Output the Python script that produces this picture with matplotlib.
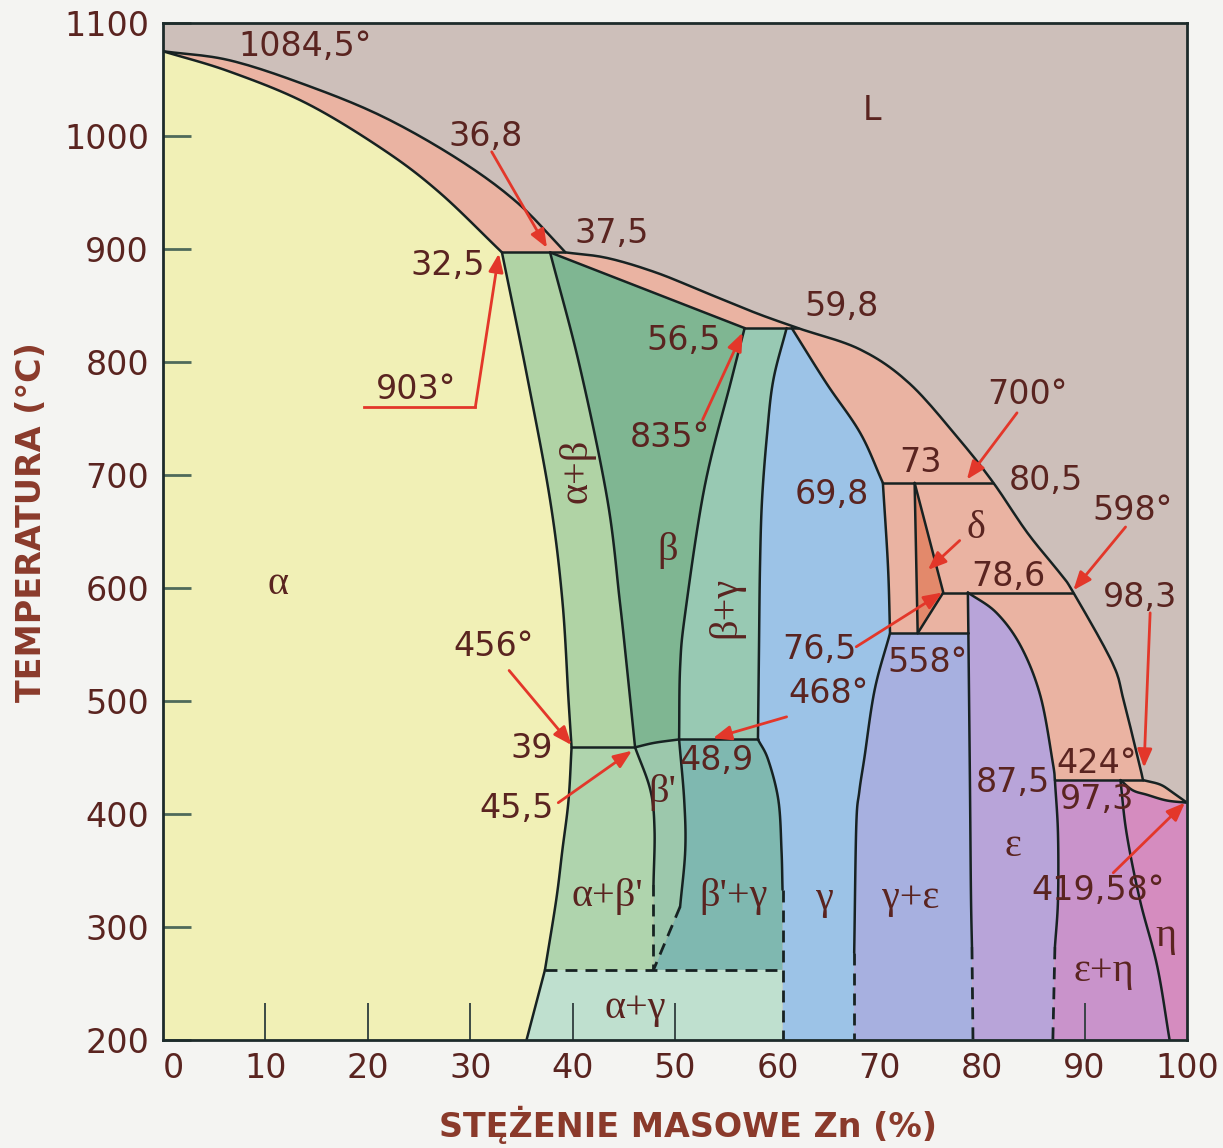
import numpy as np
import matplotlib.pyplot as plt

# Cu-Zn phase diagram, boundaries (Zn wt%, temperature in C)
liq_x = [0.0, 6.5, 14.0, 21.5, 28.9, 34.6, 39.3, 43.4, 48.2, 53.1, 58.0, 62.0, 68.1, 72.9,
         77.8, 81.1, 84.4, 87.6, 88.9, 92.7, 93.8, 95.4, 95.7, 97.4, 98.6, 100.0]
liq_t = [1075, 1067, 1045, 1017, 979, 941, 897, 892, 879, 861, 843, 830, 811, 781,
         731, 693, 649, 613, 596, 534, 501, 442, 430, 426, 419, 410]

sol_a_x = [0.0, 6.5, 14.0, 21.5, 27.0, 33.1]
sol_a_t = [1075, 1057, 1029, 988, 950, 897]

solv_a_x = [33.1, 35.5, 37.8, 39.0, 39.6, 39.9, 39.6, 39.0, 38.4, 37.3, 35.5]
solv_a_t = [897, 790, 678, 589, 501, 459, 412, 368, 324, 262, 200]

beta_l_x = [37.8, 40.7, 43.4, 44.6, 45.3, 46.1]
beta_l_t = [897, 796, 678, 589, 530, 459]

beta_r_x = [56.8, 55.5, 52.9, 51.0, 50.5, 50.4]
beta_r_t = [830, 784, 690, 578, 530, 466]

bp_top_x = [46.1, 48.0, 50.4]
bp_top_t = [459, 463, 466]

gam_l_x = [60.9, 59.6, 59.0, 58.5, 58.3, 58.2, 58.1, 59.1, 60.1, 60.4, 60.5]
gam_l_t = [830, 784, 737, 678, 619, 545, 466, 448, 412, 368, 333]

gam_r_x = [61.4, 64.8, 68.1, 70.3, 70.8, 71.0, 69.5, 68.5, 68.0, 67.7, 67.5]
gam_r_t = [830, 781, 737, 693, 619, 560, 510, 450, 420, 389, 277]

abp_x = [46.1, 47.6, 48.0, 47.9]   # alpha+beta' / beta'
abp_t = [459, 421, 386, 338]
bpg_x = [50.4, 50.9, 51.0, 50.5]   # beta' / beta'+gamma
bpg_t = [466, 412, 368, 318]

delta_x = [73.4, 76.2, 73.7]
delta_t = [693, 596, 560]

eps_l_x = [78.6, 78.65, 78.8, 78.9, 79.0]
eps_l_t = [596, 560, 430, 330, 282]
eps_r_x = [78.6, 81.4, 83.8, 85.7, 86.9, 87.1, 87.4, 87.4, 87.1]
eps_r_t = [596, 578, 548, 504, 445, 430, 383, 324, 282]

eta_sol_x = [93.5, 94.7, 96.1, 98.0, 100.0]
eta_sol_t = [430, 421, 417, 412, 410]
eta_solv_x = [93.5, 94.1, 95.4, 97.1, 98.3]
eta_solv_t = [430, 383, 324, 265, 200]

# isotherms: (x from, x to, temperature)
isotherms = [(33.1, 39.3, 897), (56.8, 62.0, 830), (70.3, 81.1, 693), (76.2, 88.9, 596),
             (71.0, 78.6, 560), (39.9, 46.1, 459), (50.4, 58.1, 466), (87.1, 95.7, 430)]
t_low = 262

INK = "#172222"
RED = "#e3372a"
TXT = "#5a2420"
AXL = "#8a3a2b"

col = {
    "L": "#cdbfba", "pink": "#eab3a2", "a": "#f1f0b6", "ab": "#b0d3a5", "b": "#7fb692",
    "bg": "#98c9b3", "g": "#9cc3e7", "abp": "#afd4ad", "bp": "#9cc8ac", "bpg": "#7fb8b0",
    "ag": "#bfe0cf", "ge": "#a7b0e0", "e": "#b8a4d9", "eh": "#c993cb", "h": "#d58cbf",
    "d": "#e3896b",
}

SCALE = np.array([10.24, 1.13])  # px per unit, so the curves are smoothed in screen space


def S(p, n=12):
    """Catmull-Rom curve through the read points (drawing only)."""
    p = np.asarray(p, float)
    if len(p) < 3:
        return p
    q = p * SCALE
    ext = np.vstack([2 * q[0] - q[1], q, 2 * q[-1] - q[-2]])
    s = np.linspace(0, 1, n, endpoint=False)[:, None]
    out = []
    for i in range(1, len(ext) - 2):
        p0, p1, p2, p3 = ext[i - 1:i + 3]
        out.append(0.5 * (2 * p1 + (p2 - p0) * s + (2 * p0 - 5 * p1 + 4 * p2 - p3) * s ** 2
                          + (3 * p1 - p0 - 3 * p2 + p3) * s ** 3))
    out.append(q[-1:])
    return np.vstack(out) / SCALE


def P(x, t):
    return np.column_stack([x, t]).astype(float)


liq = P(liq_x, liq_t)
liq_s = np.vstack([S(liq[:7]), S(liq[6:12])[1:], S(liq[11:23])[1:], S(liq[22:])[1:]])
sol_a = S(P(sol_a_x, sol_a_t))
solv = P(solv_a_x, solv_a_t)
solv_up, solv_lo, solv_bot = S(solv[:6]), S(solv[5:10]), solv[9:]
beta_l = S(P(beta_l_x, beta_l_t))
beta_r = S(P(beta_r_x, beta_r_t))
bp_top = S(P(bp_top_x, bp_top_t))
gl = P(gam_l_x, gam_l_t)
gl_up, gl_lo = S(gl[:7]), S(gl[6:])
gr = P(gam_r_x, gam_r_t)
gr1, gr2, gr3 = S(gr[:4]), S(gr[3:6]), S(gr[5:])
abp = S(P(abp_x, abp_t))
bpg = S(P(bpg_x, bpg_t))
el = P(eps_l_x, eps_l_t)
el1, el2 = el[:2], S(el[1:])
er = P(eps_r_x, eps_r_t)
er1, er2 = S(er[:6]), S(er[5:])
eta_sol = S(P(eta_sol_x, eta_sol_t))
eta_solv = S(P(eta_solv_x, eta_solv_t))

fig = plt.figure(figsize=(12.23, 11.48), dpi=100, facecolor="#f4f4f2")
ax = fig.add_axes([163 / 1223, 1 - 1040 / 1148, 1024 / 1223, 1017 / 1148])
ax.set_xlim(0, 100)
ax.set_ylim(200, 1100)
ax.set_facecolor(col["L"])


def fill(c, *parts):
    p = np.vstack(parts)
    ax.fill(p[:, 0], p[:, 1], color=col[c], lw=0, zorder=1)


x_g = gl[-1, 0]
x_gr = gr[-1, 0]
fill("pink", liq_s, [[100, 200], [0, 200]])
fill("a", sol_a, solv_up, solv_lo, solv_bot, [[0, 200]])
fill("ab", solv_up, beta_l[::-1])
fill("b", beta_l, bp_top, beta_r[::-1])
fill("bg", beta_r, gl_up[::-1])
fill("g", gl_up, gl_lo, [[x_g, 200], [x_gr, 200]], gr3[::-1], gr2[::-1], gr1[::-1])
fill("abp", solv_lo, [[47.9, t_low]], abp[::-1])
fill("bp", abp, [[47.9, t_low]], bpg[::-1], bp_top[::-1])
fill("bpg", bpg, [[47.9, t_low], [x_g, t_low]], gl_lo[::-1])
fill("ag", solv_bot, [[x_g, 200], [x_g, t_low]])
fill("ge", gr3, [[x_gr, 200], [79.1, 200]], el2[::-1])
fill("e", el1, el2, [[79.1, 200], [86.9, 200]], er2[::-1], er1[::-1])
fill("eh", er2, [[86.9, 200], [eta_solv[-1, 0], 200]], eta_solv[::-1])
fill("h", eta_solv, [[100, 200], [100, 410]], eta_sol[::-1])
fill("d", P(delta_x, delta_t))

solid = dict(color=INK, lw=1.8, zorder=3, solid_joinstyle="round", solid_capstyle="round")
dashed = dict(color=INK, lw=2.0, zorder=3, linestyle=(0, (4.3, 2.9)))
for c in [liq_s, sol_a, solv_up, solv_lo, solv_bot, beta_l, beta_r, bp_top, gl_up, gl_lo,
          gr1, gr2, gr3, abp, bpg, el1, el2, er1, er2, eta_sol, eta_solv]:
    ax.plot(c[:, 0], c[:, 1], **solid)
ax.plot([beta_l[0, 0], 56.8], [897, 830], **solid)
ax.plot([73.4, 73.7], [693, 560], **solid)
ax.plot(delta_x, delta_t, **solid)
for x0, x1, t in isotherms:
    ax.plot([x0, x1], [t, t], **solid)

# dashed low-temperature boundaries
ax.plot([solv[9, 0], x_g], [t_low, t_low], **dashed)
ax.plot([x_g, x_g], [gl[-1, 1], 200], **dashed)
ax.plot([x_gr, x_gr], [gr[-1, 1], 200], **dashed)
ax.plot([el[-1, 0], 79.1], [el[-1, 1], 200], **dashed)
ax.plot([er[-1, 0], 86.9], [er[-1, 1], 200], **dashed)
ax.plot([abp[-1, 0], 47.9], [abp[-1, 1], t_low], **dashed)
ax.plot([bpg[-1, 0], 47.9], [bpg[-1, 1], t_low], **dashed)

# numeric annotations
num_labels = [
    ("1084,5°", 13.9, 1079), ("36,8", 31.5, 1000), ("37,5", 43.8, 914),
    ("32,5", 27.8, 885), ("903°", 24.7, 776), ("59,8", 66.3, 849),
    ("56,5", 50.8, 819), ("835°", 49.5, 733), ("700°", 84.4, 771),
    ("73", 74.0, 711), ("80,5", 86.2, 695), ("69,8", 65.3, 683),
    ("598°", 94.7, 669), ("78,6", 82.6, 610), ("98,3", 95.4, 592),
    ("76,5", 64.1, 546), ("558°", 74.7, 534), ("468°", 65.0, 507),
    ("456°", 32.3, 548), ("39", 36.0, 458), ("45,5", 34.5, 405),
    ("48,9", 54.1, 447), ("424°", 91.2, 445), ("87,5", 83.0, 428),
    ("97,3", 91.2, 413), ("419,58°", 91.3, 332), ("L", 69.2, 1023),
]
for s, x, t in num_labels:
    ax.text(x, t, s, fontsize=24, color=TXT, ha="center", va="center", zorder=5)

phase_labels = [
    ("α", 11.2, 603, 0), ("α+β", 40.4, 704, 90), ("β", 49.3, 633, 0),
    ("β+γ", 55.0, 583, 90), ("δ", 79.4, 653, 0), ("β'", 48.8, 419, 0),
    ("α+β'", 43.4, 327, 0), ("β'+γ", 55.7, 327, 0), ("γ", 64.6, 324, 0),
    ("γ+ε", 73.0, 325, 0), ("ε", 83.0, 371, 0), ("ε+η", 91.9, 261, 0),
    ("η", 97.9, 292, 0), ("α+γ", 46.1, 228, 0),
]
for s, x, t, rot in phase_labels:
    ax.text(x, t, s, fontsize=29, family="Liberation Serif", color=TXT, rotation=rot,
            ha="center", va="center", zorder=5)

# red pointer arrows: (tail, head)
arrows = [
    ((32.1, 986), (37.5, 901)), ((52.7, 749), (56.6, 826)), ((83.4, 755), (78.5, 696)),
    ((94.0, 654), (88.9, 598)), ((77.8, 642), (74.7, 616)), ((96.4, 578), (95.8, 441)),
    ((67.7, 548), (76.1, 596)), ((60.9, 486), (53.7, 467)), ((33.8, 527), (39.9, 461)),
    ((38.6, 410), (45.8, 456)), ((92.8, 348), (99.8, 410)), ((30.5, 760), (32.8, 896)),
]
ap = dict(arrowstyle="-|>,head_length=0.55,head_width=0.22", color=RED, lw=2,
          shrinkA=0, shrinkB=0, mutation_scale=20)
for tail, head in arrows:
    ax.annotate("", xy=head, xytext=tail, arrowprops=ap, zorder=6)
ax.plot([19.6, 30.5], [760, 760], color=RED, lw=2, zorder=6)

# axes styling
for sp in ax.spines.values():
    sp.set_color("#1d2b2b")
    sp.set_linewidth(2)
    sp.set_zorder(7)
ax.set_yticks(range(200, 1101, 100))
ax.tick_params(axis="y", direction="in", length=20, width=2, color="#4f6a5a", pad=10,
               labelsize=24, labelcolor=TXT)
ax.set_xticks(range(0, 101, 10))
ax.tick_params(axis="x", length=0, pad=9, labelsize=24, labelcolor=TXT)
ax.get_xticklabels()[0].set_horizontalalignment("left")
xtick_marks = [10, 20, 30, 40, 50, 90]
ax.vlines(xtick_marks, 200, 233, color="#2f3d3d", lw=1.3, zorder=4)

fig.text(32 / 1223, 1 - 522 / 1148, "TEMPERATURA (°C)", rotation=90, ha="center",
         va="center", fontsize=24, fontweight="bold", color=AXL)
fig.text(688 / 1223, 1 - 1125 / 1148, "STĘŻENIE MASOWE Zn (%)", ha="center",
         va="center", fontsize=24, fontweight="bold", color=AXL)

fig.savefig("out.png", dpi=100, facecolor=fig.get_facecolor())
